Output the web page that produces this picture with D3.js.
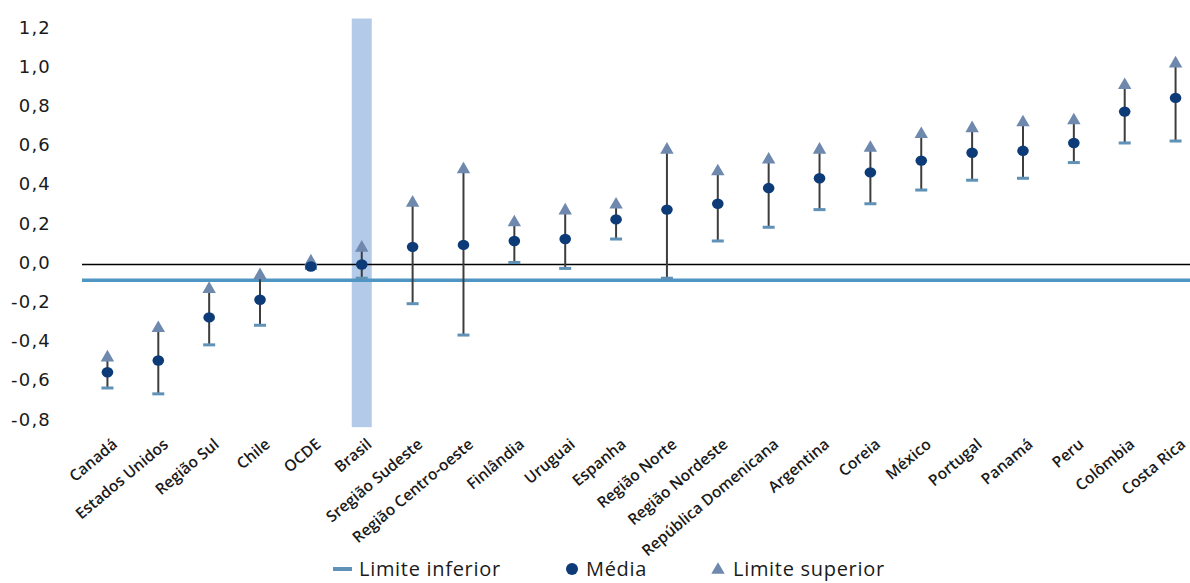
<!DOCTYPE html>
<html>
<head>
<meta charset="utf-8">
<script src="https://cdn.jsdelivr.net/npm/d3@7"></script>
<style>
  html, body { margin: 0; padding: 0; background: #fff; }
  svg { display: block; }
</style>
</head>
<body>
<svg id="chart" width="1190" height="583"></svg>
<script>
// Categories along the x axis
const categories = [
  "Canadá", "Estados Unidos", "Região Sul", "Chile", "OCDE", "Brasil",
  "Sregião Sudeste", "Região Centro-oeste", "Finlândia", "Uruguai", "Espanha",
  "Região Norte", "Região Nordeste", "República Domenicana", "Argentina",
  "Coreia", "México", "Portugal", "Panamá", "Peru", "Colômbia", "Costa Rica"
];

// Lower limit, mean and upper limit per category
const limiteInferior = [
  -0.63, -0.66, -0.41, -0.31, -0.02, -0.07, -0.20, -0.36, 0.01, -0.02, 0.13,
  -0.07, 0.12, 0.19, 0.28, 0.31, 0.38, 0.43, 0.44, 0.52, 0.62, 0.63
];
const media = [
  -0.55, -0.49, -0.27, -0.18, -0.01, 0.00, 0.09, 0.10, 0.12, 0.13, 0.23,
  0.28, 0.31, 0.39, 0.44, 0.47, 0.53, 0.57, 0.58, 0.62, 0.78, 0.85
];
const limiteSuperior = [
  -0.47, -0.32, -0.12, -0.05, 0.02, 0.09, 0.32, 0.49, 0.22, 0.28, 0.31,
  0.59, 0.48, 0.54, 0.59, 0.60, 0.67, 0.70, 0.73, 0.74, 0.92, 1.03
];

// Y axis ticks
const yTicks = [-0.8, -0.6, -0.4, -0.2, 0.0, 0.2, 0.4, 0.6, 0.8, 1.0, 1.2];

// Horizontal reference line and highlighted category
const referenceValue = -0.08;
const highlightCategory = "Brasil";
const highlightExtent = [-0.83, 1.255];

const legendLabels = ["Limite inferior", "Média", "Limite superior"];

const colors = {
  mean: "#0c3b77",
  upper: "#6e88ae",
  lower: "#5f92b6",
  whisker: "#3d3d3d",
  refLine: "#4f95c3",
  zeroLine: "#000000",
  highlight: "#b3cae9",
  text: "#1a1a1a"
};

const svg = d3.select("#chart");
const W = 1190;

const x = d3.scaleBand().domain(categories).range([82, 1201]).padding(0);
const y = d3.scaleLinear().domain([-0.8, 1.2]).range([421.3, 29.3]);

const rows = categories.map((c, i) => ({
  cat: c, lo: limiteInferior[i], mean: media[i], hi: limiteSuperior[i]
}));
const cx = c => x(c) + x.bandwidth() / 2;

// Highlight column
svg.append("rect")
  .attr("x", cx(highlightCategory) - 10)
  .attr("width", 20)
  .attr("y", y(highlightExtent[1]))
  .attr("height", y(highlightExtent[0]) - y(highlightExtent[1]))
  .attr("fill", colors.highlight);

// Zero line
svg.append("line")
  .attr("x1", 82).attr("x2", W)
  .attr("y1", y(0)).attr("y2", y(0))
  .attr("stroke", colors.zeroLine).attr("stroke-width", 1.5);

// Reference line
svg.append("line")
  .attr("x1", 82).attr("x2", W)
  .attr("y1", y(referenceValue)).attr("y2", y(referenceValue))
  .attr("stroke", colors.refLine).attr("stroke-width", 3.5);

// Y axis (labels only)
const locale = d3.formatLocale({
  decimal: ",", thousands: ".", grouping: [3], currency: ["", ""], minus: "-"
});
const fmt = locale.format(".1f");
const yAxis = svg.append("g")
  .attr("transform", "translate(51,-2)")
  .call(d3.axisLeft(y).tickValues(yTicks).tickFormat(fmt).tickSize(0).tickPadding(0));
yAxis.select(".domain").remove();
yAxis.selectAll("text")
  .attr("fill", colors.text)
  .style("font-family", "'DejaVu Sans', Verdana, sans-serif")
  .style("font-size", "18px")
  .style("letter-spacing", "1.2px");

// Category labels
const xAxis = svg.append("g")
  .attr("transform", "translate(0,436)")
  .call(d3.axisBottom(x).tickSize(0).tickPadding(0));
xAxis.select(".domain").remove();
xAxis.selectAll("text")
  .attr("text-anchor", "end")
  .attr("dy", "0")
  .attr("y", 0)
  .attr("transform", "translate(11,10) rotate(-40)")
  .attr("fill", colors.text)
  .style("font-family", "'Open Sans', sans-serif")
  .style("font-weight", "600")
  .style("font-size", "15.6px");

// Whiskers
const g = svg.append("g");
g.selectAll("line.whisker")
  .data(rows).join("line")
  .attr("class", "whisker")
  .attr("x1", d => cx(d.cat)).attr("x2", d => cx(d.cat))
  .attr("y1", d => y(d.lo)).attr("y2", d => y(d.hi))
  .attr("stroke", colors.whisker).attr("stroke-width", 2);

// Lower limit markers
g.selectAll("rect.lower")
  .data(rows).join("rect")
  .attr("class", "lower")
  .attr("x", d => cx(d.cat) - 6).attr("width", 12)
  .attr("y", d => y(d.lo) - 1.5).attr("height", 3)
  .attr("fill", colors.lower);

// Upper limit markers (triangles)
const tri = d3.symbol().type(d3.symbolTriangle).size(78);
g.selectAll("path.upper")
  .data(rows).join("path")
  .attr("class", "upper")
  .attr("d", tri)
  .attr("transform", d => `translate(${cx(d.cat)},${y(d.hi) + 1})`)
  .attr("fill", colors.upper);

// Mean markers
g.selectAll("ellipse.mean")
  .data(rows).join("ellipse")
  .attr("class", "mean")
  .attr("cx", d => cx(d.cat)).attr("cy", d => y(d.mean))
  .attr("rx", 5.8).attr("ry", 5.2)
  .attr("fill", colors.mean);

// Legend
const leg = svg.append("g").attr("transform", "translate(0,569)");
const legFont = s => s.style("font-family", "'Open Sans', sans-serif")
  .style("font-size", "20px").style("letter-spacing", "0.7px")
  .attr("fill", colors.text).attr("dy", "0.35em");

leg.append("rect").attr("x", 333).attr("y", -2).attr("width", 19).attr("height", 4)
  .attr("fill", colors.lower);
leg.append("text").attr("x", 359).attr("y", 0).text(legendLabels[0]).call(legFont);

leg.append("circle").attr("cx", 572).attr("cy", 0).attr("r", 6).attr("fill", colors.mean);
leg.append("text").attr("x", 586).attr("y", 0).text(legendLabels[1]).call(legFont);

leg.append("path").attr("d", d3.symbol().type(d3.symbolTriangle).size(78))
  .attr("transform", "translate(718,1)").attr("fill", colors.upper);
leg.append("text").attr("x", 733).attr("y", 0).text(legendLabels[2]).call(legFont);
</script>
</body>
</html>
